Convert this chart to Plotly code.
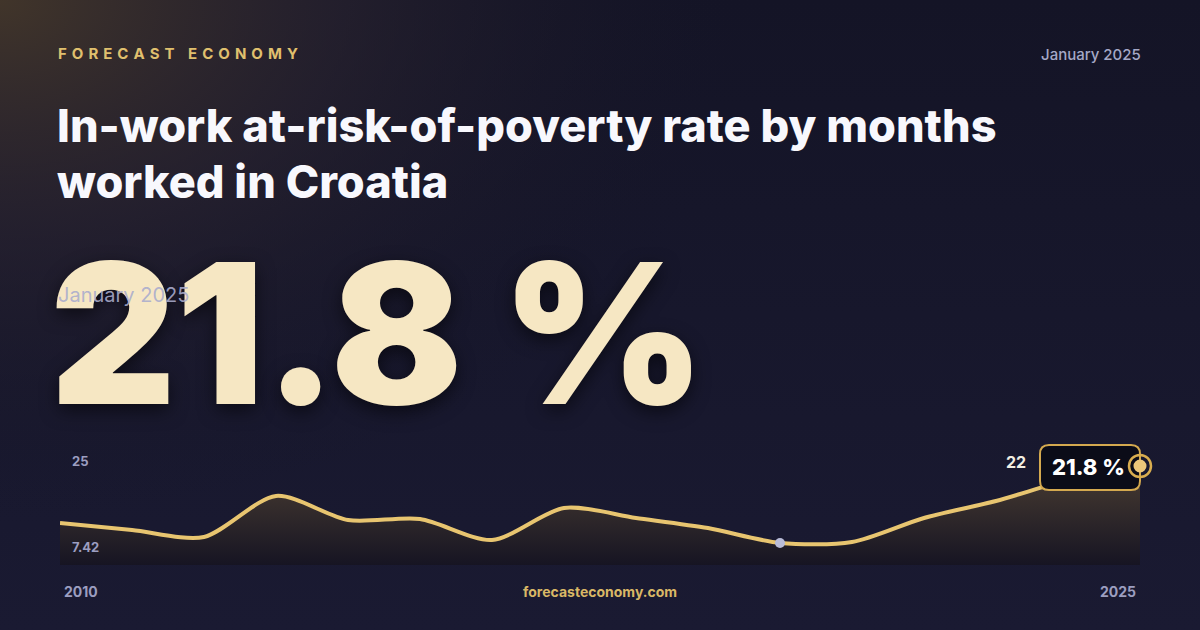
import plotly.graph_objects as go
import urllib.parse

# ---- data ----
years = list(range(2010, 2026))
rate = [11.15, 9.85, 8.54, 16.2, 11.7, 11.9, 7.98, 13.96, 12.09, 10.2, 7.42, 7.6, 12.09, 15.26, 19.2, 21.8]
brand = "FORECAST ECONOMY"
title_lines = ["In-work at-risk-of-poverty rate by months", "worked in Croatia"]
period = "January 2025"
site = "forecasteconomy.com"
unit = "%"

last_val = rate[-1]
min_val = min(rate)
min_idx = rate.index(min_val)

W, H = 1200, 630
def px(x):
    return x / W
def py(y):
    return 1 - y / H

# background svg
svg = f'''<svg xmlns="http://www.w3.org/2000/svg" width="{W}" height="{H}" viewBox="0 0 {W} {H}">
<defs>
<linearGradient id="b" x1="0" y1="0" x2="0" y2="1">
<stop offset="0" stop-color="#141426"/><stop offset="1" stop-color="#1a1a32"/>
</linearGradient>
<radialGradient id="g" cx="0" cy="0" r="1" gradientUnits="userSpaceOnUse" gradientTransform="translate(0 0) scale(760 520)">
<stop offset="0" stop-color="#41352a" stop-opacity="1"/>
<stop offset="0.45" stop-color="#2c2530" stop-opacity="0.6"/>
<stop offset="1" stop-color="#141426" stop-opacity="0"/>
</radialGradient>
</defs>
<rect width="{W}" height="{H}" fill="url(#b)"/>
<rect width="{W}" height="{H}" fill="url(#g)"/>
</svg>'''
bg_uri = "data:image/svg+xml;charset=utf-8," + urllib.parse.quote(svg)

GOLD = "#e8c570"

fig = go.Figure()
fig.add_trace(go.Scatter(
    x=years, y=rate, mode="lines",
    line=dict(color=GOLD, width=4, shape="spline", smoothing=0.8),
    fill="tozeroy",
    fillgradient=dict(type="vertical", start=3.3, stop=22,
                      colorscale=[[0, "rgba(22,20,34,0.95)"], [1, "rgba(76,63,50,0.95)"]]),
    hoverinfo="skip", showlegend=False,
))
# min marker
fig.add_trace(go.Scatter(
    x=[years[min_idx]], y=[min_val], mode="markers",
    marker=dict(size=10, color="#b9bcd8"), hoverinfo="skip", showlegend=False,
    cliponaxis=False,
))

# plot area: 2010 at x=60px, 2025 at x=1140px, plus 20px padding on the right
x0, x1 = 60, 1160
pad_years = (years[-1] - years[0]) * 20 / 1080
ytop, ybot = 440, 565
fig.update_layout(
    width=W, height=H,
    margin=dict(l=0, r=0, t=0, b=0),
    paper_bgcolor="#15152a", plot_bgcolor="rgba(0,0,0,0)",
    xaxis=dict(domain=[px(x0), px(x1)], range=[years[0], years[-1] + pad_years], visible=False, fixedrange=True),
    yaxis=dict(domain=[py(ybot), py(ytop)], range=[3.3, 26.66], visible=False, fixedrange=True),
    images=[dict(source=bg_uri, xref="paper", yref="paper", x=0, y=1, sizex=1, sizey=1,
                 xanchor="left", yanchor="top", sizing="stretch", layer="below")],
)

annots = []
def txt(x, y, s, size, color, weight=400, family="Inter", xanchor="left", yanchor="middle", **kw):
    annots.append(dict(x=px(x), y=py(y), xref="paper", yref="paper", text=s, showarrow=False,
                       xanchor=xanchor, yanchor=yanchor,
                       font=dict(size=size, color=color, family=family, weight=weight, **kw)))

sp = "\u2004"
brand_spaced = (sp + " " + sp).join(sp.join(list(w)) for w in brand.split(" "))
txt(56, 53, brand_spaced, 15, "#e0c06e", 700)
txt(1143, 54, period, 15, "#a5a8c6", 500, xanchor="right")
txt(55, 126, title_lines[0], 45.1, "#f8f8fd", 800)
txt(55, 181, title_lines[1], 45.1, "#f8f8fd", 800)
# big number
txt(48, 333, f"{last_val} {unit}", 195, "#f6e7c3", 900,
    shadow="0px 6px 18px rgba(0,0,0,0.55)")
txt(56, 295, period, 20, "rgba(170,172,205,0.9)", 400)
# axis labels
txt(70, 461, "25", 13, "#9c9ec0", 700)
txt(70, 547, f"{min_val}", 13, "#9c9ec0", 700)
txt(62, 591, str(years[0]), 14, "#9c9ec0", 700)
txt(1138, 591, str(years[-1]), 14, "#9c9ec0", 700, xanchor="right")
txt(600, 591, site, 14, "#d9b866", 700, xanchor="center")
txt(1028, 462, f"{round(last_val)}", 16, "#f2eee2", 700, xanchor="right")
fig.layout.annotations = annots

# callout box
bx0, bx1, by0, by1, r = 1040, 1140, 445, 490, 9
path = (f"M {px(bx0 + r)},{py(by0)} L {px(bx1 - r)},{py(by0)} "
        f"Q {px(bx1)},{py(by0)} {px(bx1)},{py(by0 + r)} L {px(bx1)},{py(by1 - r)} "
        f"Q {px(bx1)},{py(by1)} {px(bx1 - r)},{py(by1)} L {px(bx0 + r)},{py(by1)} "
        f"Q {px(bx0)},{py(by1)} {px(bx0)},{py(by1 - r)} L {px(bx0)},{py(by0 + r)} "
        f"Q {px(bx0)},{py(by0)} {px(bx0 + r)},{py(by0)} Z")
fig.add_shape(type="path", path=path, xref="paper", yref="paper",
              fillcolor="#0b0c18", line=dict(color="#d4a94f", width=2), layer="above")
# end marker ring + dot (drawn after the box so they sit on top)
for rad, fill, lw in [(11, "rgba(0,0,0,0)", 2.5), (6.5, "#ecc77a", 0)]:
    fig.add_shape(type="circle", xref="x", yref="y", xsizemode="pixel", ysizemode="pixel",
                  xanchor=years[-1], yanchor=last_val, x0=-rad, x1=rad, y0=-rad, y1=rad,
                  fillcolor=fill, line=dict(color="#d9ad4f", width=lw), layer="above")
fig.add_annotation(x=px(1088), y=py(467), xref="paper", yref="paper", text=f"{last_val} {unit}",
                   showarrow=False, xanchor="center", yanchor="middle",
                   font=dict(size=22, color="#ffffff", family="Inter", weight=800))

fig.write_html("out.html", config={"displayModeBar": False},
               post_script="document.body.style.margin='0';document.body.style.background='#15152a';")
